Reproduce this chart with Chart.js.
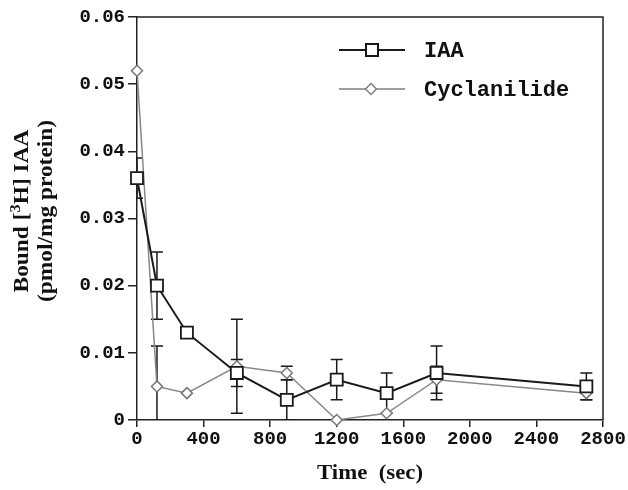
<!DOCTYPE html>
<html>
<head>
<meta charset="utf-8">
<script src="https://cdn.jsdelivr.net/npm/chart.js@4"></script>
<style>
  html, body { margin: 0; padding: 0; background: #fff; }
  #wrap { width: 628px; height: 490px; }
</style>
</head>
<body>
<div id="wrap"><canvas id="bindChart" width="628" height="490"></canvas></div>
<script>
// time points (sec)
const times = [0, 120, 300, 600, 900, 1200, 1500, 1800, 2700];

// bound [3H] IAA, pmol/mg protein
const iaaValues = [0.036, 0.020, 0.013, 0.007, 0.003, 0.006, 0.004, 0.007, 0.005];
const iaaHigh   = [0.039, 0.025, null, 0.015, 0.006, 0.009, 0.007, 0.011, 0.007];
const iaaLow    = [0.033, 0.015, null, 0.001, 0.000, 0.003, 0.001, 0.003, 0.003];

const cycValues = [0.052, 0.005, 0.004, 0.008, 0.007, 0.000, 0.001, 0.006, 0.004];
const cycHigh   = [null, 0.011, null, 0.009, 0.008, null, null, 0.008, null];
const cycLow    = [null, -0.002, null, 0.005, 0.006, null, null, 0.004, 0.003];

const xTicks = [0, 400, 800, 1200, 1600, 2000, 2400, 2800];
const yTicks = [0, 0.01, 0.02, 0.03, 0.04, 0.05, 0.06];

const seriesNames = ['IAA', 'Cyclanilide'];

const serifBold = 'bold 20px "Liberation Serif", "Times New Roman", serif';
const supFont = 'bold 14px "Liberation Serif", "Times New Roman", serif';
const monoFamily = '"Liberation Mono", "Courier New", monospace';

function toPoints(vals) {
    return times.map((t, i) => ({ x: t, y: vals[i] }));
}

// error bars, frame, titles and legend
const extras = {
    id: 'extras',
    beforeDatasetsDraw(chart) {
        const ctx = chart.ctx;
        const a = chart.chartArea;
        const xs = chart.scales.x, ys = chart.scales.y;

        // frame top/right
        ctx.save();
        ctx.strokeStyle = '#222';
        ctx.lineWidth = 1.5;
        ctx.beginPath();
        ctx.moveTo(a.left, a.top);
        ctx.lineTo(a.right, a.top);
        ctx.lineTo(a.right, a.bottom);
        ctx.stroke();
        ctx.restore();

        // error bars
        const bars = [[iaaHigh, iaaLow, iaaValues], [cycHigh, cycLow, cycValues]];
        ctx.save();
        ctx.beginPath();
        ctx.rect(a.left, a.top, a.right - a.left, a.bottom - a.top);
        ctx.clip();
        ctx.strokeStyle = '#1a1a1a';
        ctx.lineWidth = 1.5;
        bars.forEach(([hi, lo, v]) => {
            times.forEach((t, i) => {
                const px = xs.getPixelForValue(t);
                const py = ys.getPixelForValue(v[i]);
                [hi[i], lo[i]].forEach(e => {
                    if (e === null) return;
                    const ey = ys.getPixelForValue(e);
                    ctx.beginPath();
                    ctx.moveTo(px, py);
                    ctx.lineTo(px, ey);
                    ctx.moveTo(px - 6, ey);
                    ctx.lineTo(px + 6, ey);
                    ctx.stroke();
                });
            });
        });
        ctx.restore();
    },
    afterDraw(chart) {
        const ctx = chart.ctx;
        ctx.save();
        ctx.fillStyle = '#111';

        // x title (a bit wider than the plain font)
        ctx.save();
        ctx.translate(370, 479);
        ctx.scale(1.14, 1);
        ctx.font = serifBold;
        ctx.textAlign = 'center';
        ctx.textBaseline = 'alphabetic';
        ctx.fillText('Time  (sec)', 0, 0);
        ctx.restore();

        // y title, rotated, with superscript 3
        ctx.save();
        ctx.translate(28, 211);
        ctx.rotate(-Math.PI / 2);
        ctx.scale(1.17, 1);
        const p1 = 'Bound [', sup = '3', p2 = 'H] IAA';
        ctx.font = serifBold;
        const w1 = ctx.measureText(p1).width;
        const w3 = ctx.measureText(p2).width;
        ctx.font = supFont;
        const w2 = ctx.measureText(sup).width;
        const x0 = -(w1 + w2 + w3) / 2;
        ctx.textAlign = 'left';
        ctx.font = serifBold;
        ctx.fillText(p1, x0, 0);
        ctx.font = supFont;
        ctx.fillText(sup, x0 + w1, -8);
        ctx.font = serifBold;
        ctx.fillText(p2, x0 + w1 + w2, 0);
        ctx.textAlign = 'center';
        ctx.fillText('(pmol/mg protein)', 0, 24);
        ctx.restore();

        // legend
        const rows = [
            { y: 50, color: '#1a1a1a', lw: 2, shape: 'rect', name: seriesNames[0] },
            { y: 89, color: '#808080', lw: 1.5, shape: 'diamond', name: seriesNames[1] }
        ];
        rows.forEach(r => {
            ctx.strokeStyle = r.color;
            ctx.lineWidth = r.lw;
            ctx.beginPath();
            ctx.moveTo(339, r.y);
            ctx.lineTo(405, r.y);
            ctx.stroke();
            ctx.fillStyle = '#fff';
            ctx.beginPath();
            if (r.shape === 'rect') {
                ctx.rect(372 - 6, r.y - 6, 12, 12);
            } else {
                ctx.moveTo(371, r.y - 5.5);
                ctx.lineTo(376.5, r.y);
                ctx.lineTo(371, r.y + 5.5);
                ctx.lineTo(365.5, r.y);
                ctx.closePath();
            }
            ctx.fill();
            ctx.stroke();
            ctx.fillStyle = '#111';
            ctx.font = 'bold 22px ' + monoFamily;
            ctx.textAlign = 'left';
            ctx.textBaseline = 'middle';
            ctx.fillText(r.name, 424, r.y + 1);
        });
        ctx.restore();
    }
};

new Chart(document.getElementById('bindChart'), {
    type: 'scatter',
    data: {
        datasets: [
            {
                label: seriesNames[0],
                data: toPoints(iaaValues),
                showLine: true,
                borderColor: '#1a1a1a',
                borderWidth: 2,
                pointStyle: 'rect',
                pointRadius: 8.5,
                pointBackgroundColor: '#fff',
                pointBorderColor: '#1a1a1a',
                pointBorderWidth: 1.8,
                clip: false
            },
            {
                label: seriesNames[1],
                data: toPoints(cycValues),
                showLine: true,
                borderColor: '#888',
                borderWidth: 1.5,
                pointStyle: 'rectRot',
                pointRadius: 5.5,
                pointBackgroundColor: '#fff',
                pointBorderColor: '#777',
                pointBorderWidth: 1.5,
                clip: false
            }
        ]
    },
    options: {
        responsive: false,
        animation: false,
        events: [],
        layout: { padding: { top: 17, right: 25, left: 0, bottom: 0 } },
        plugins: {
            legend: { display: false },
            tooltip: { enabled: false }
        },
        scales: {
            x: {
                type: 'linear',
                min: 0,
                max: 2800,
                afterBuildTicks: s => { s.ticks = xTicks.map(v => ({ value: v })); },
                afterFit: s => { s.height = 70; },
                grid: { drawOnChartArea: false, tickLength: 7, color: '#222', lineWidth: 1.5 },
                border: { color: '#222', width: 1.5 },
                ticks: {
                    color: '#111',
                    font: { family: monoFamily, size: 19, weight: 'bold' },
                    padding: 1,
                    maxRotation: 0,
                    callback: v => String(v)
                }
            },
            y: {
                min: 0,
                max: 0.06,
                afterBuildTicks: s => { s.ticks = yTicks.map(v => ({ value: v })); },
                afterFit: s => { s.width = 137; },
                grid: { drawOnChartArea: false, tickLength: 9, color: '#222', lineWidth: 1.5 },
                border: { color: '#222', width: 1.5 },
                ticks: {
                    color: '#111',
                    font: { family: monoFamily, size: 19, weight: 'bold' },
                    padding: 3,
                    callback: v => v === 0 ? '0' : v.toFixed(2)
                }
            }
        }
    },
    plugins: [extras]
});
</script>
</body>
</html>
